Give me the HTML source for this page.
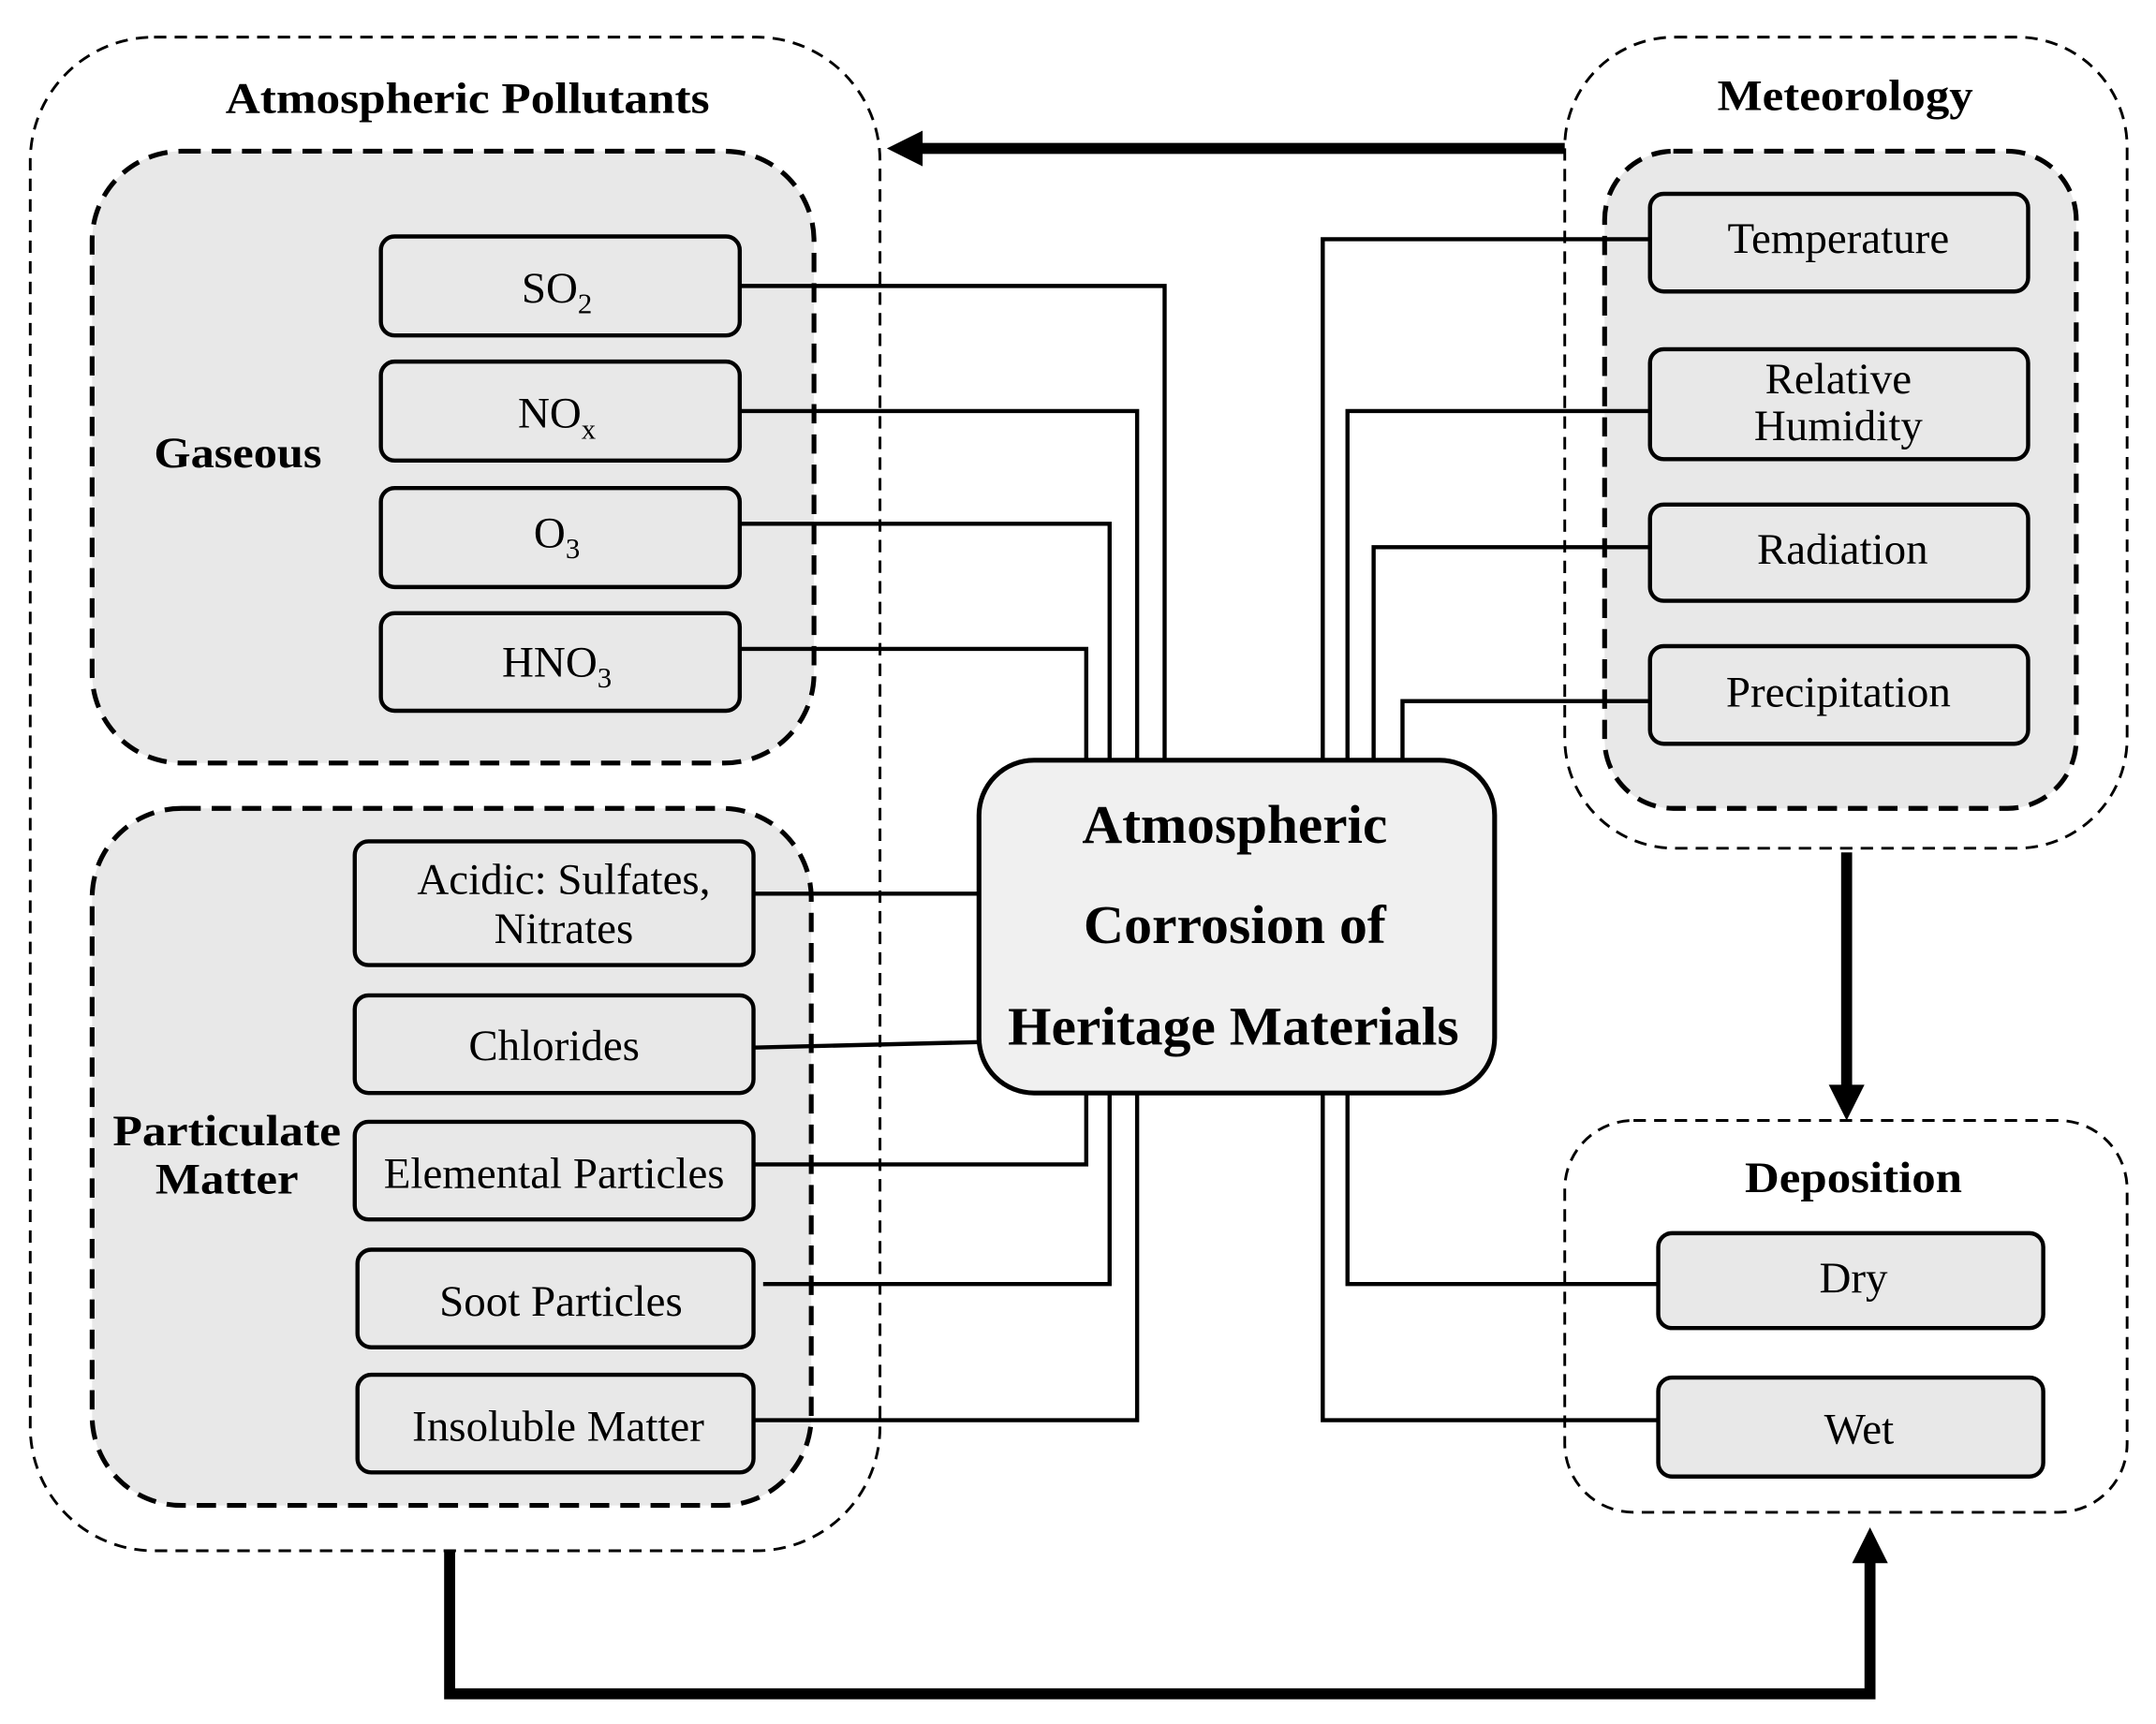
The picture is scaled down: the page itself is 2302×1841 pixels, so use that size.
<!DOCTYPE html>
<html><head><meta charset="utf-8"><style>html,body{margin:0;padding:0;background:#fff}svg{display:block}text{font-family:"Liberation Serif","Times New Roman",serif}</style></head>
<body>
<svg width="2302" height="1841" viewBox="0 0 1568 1254" preserveAspectRatio="none" xmlns="http://www.w3.org/2000/svg">
<rect x="22" y="27" width="618" height="1101" rx="90" fill="none" stroke="#000" stroke-width="2" stroke-dasharray="9,6"/>
<rect x="1138" y="27" width="409" height="590" rx="80" fill="none" stroke="#000" stroke-width="2" stroke-dasharray="9,6"/>
<rect x="1138" y="815" width="409" height="285" rx="50" fill="none" stroke="#000" stroke-width="2" stroke-dasharray="9,6"/>
<rect x="67" y="110" width="525" height="445" rx="65" fill="#e8e8e8" stroke="#000" stroke-width="3.5" stroke-dasharray="14,8"/>
<rect x="67" y="588" width="523" height="507" rx="65" fill="#e8e8e8" stroke="#000" stroke-width="3.5" stroke-dasharray="14,8"/>
<rect x="1167" y="110" width="343" height="478" rx="50" fill="#e8e8e8" stroke="#000" stroke-width="3.5" stroke-dasharray="14,8"/>
<g fill="none" stroke="#000" stroke-width="3">
<polyline points="538,208 847,208 847,553"/>
<polyline points="538,299 827,299 827,553"/>
<polyline points="538,381 807,381 807,553"/>
<polyline points="538,472 790,472 790,553"/>
<polyline points="548,650 712,650"/>
<polyline points="548,762 712,758"/>
<polyline points="548,847 790,847 790,795"/>
<polyline points="555,934 807,934 807,795"/>
<polyline points="548,1033 827,1033 827,795"/>
<polyline points="1200,174 962,174 962,553"/>
<polyline points="1200,299 980,299 980,553"/>
<polyline points="1200,398 999,398 999,553"/>
<polyline points="1200,510 1020,510 1020,553"/>
<polyline points="980,795 980,934 1206,934"/>
<polyline points="962,795 962,1033 1206,1033"/>
</g>
<g stroke="#000" stroke-width="8" fill="none">
<line x1="1138" y1="108" x2="668" y2="108"/>
<line x1="1343" y1="620" x2="1343" y2="790"/>
<polyline points="327,1128 327,1232 1360,1232 1360,1135"/>
</g>
<polygon points="645,108 671,95 671,121" fill="#000"/>
<polygon points="1343,815 1330,789 1356,789" fill="#000"/>
<polygon points="1360,1111 1347,1137 1373,1137" fill="#000"/>
<g fill="#e8e8e8" stroke="#000" stroke-width="3">
<rect x="277" y="172" width="261" height="72" rx="10"/>
<rect x="277" y="263" width="261" height="72" rx="10"/>
<rect x="277" y="355" width="261" height="72" rx="10"/>
<rect x="277" y="446" width="261" height="71" rx="10"/>
<rect x="258" y="612" width="290" height="90" rx="10"/>
<rect x="258" y="724" width="290" height="71" rx="10"/>
<rect x="258" y="816" width="290" height="71" rx="10"/>
<rect x="260" y="909" width="288" height="71" rx="10"/>
<rect x="260" y="1000" width="288" height="71" rx="10"/>
<rect x="1200" y="141" width="275" height="71" rx="10"/>
<rect x="1200" y="254" width="275" height="80" rx="10"/>
<rect x="1200" y="367" width="275" height="70" rx="10"/>
<rect x="1200" y="470" width="275" height="71" rx="10"/>
<rect x="1206" y="897" width="280" height="69" rx="10"/>
<rect x="1206" y="1002" width="280" height="72" rx="10"/>
</g>
<rect x="712" y="553" width="375" height="242" rx="40" fill="#f0f0f0" stroke="#000" stroke-width="3.5"/>
<g font-weight="bold" font-size="32" text-anchor="middle">
<text x="340" y="82" textLength="352" lengthAdjust="spacingAndGlyphs">Atmospheric Pollutants</text>
<text x="1342" y="80" textLength="186" lengthAdjust="spacingAndGlyphs">Meteorology</text>
<text x="1348" y="867" textLength="158" lengthAdjust="spacingAndGlyphs">Deposition</text>
<text x="173" y="340" textLength="122" lengthAdjust="spacingAndGlyphs">Gaseous</text>
<text x="165" y="833" textLength="166" lengthAdjust="spacingAndGlyphs">Particulate</text>
<text x="165" y="868" textLength="104" lengthAdjust="spacingAndGlyphs">Matter</text>
</g>
<g font-weight="bold" font-size="40" text-anchor="middle">
<text x="898" y="613" textLength="222" lengthAdjust="spacingAndGlyphs">Atmospheric</text>
<text x="898" y="686" textLength="220" lengthAdjust="spacingAndGlyphs">Corrosion of</text>
<text x="897" y="760" textLength="328" lengthAdjust="spacingAndGlyphs">Heritage Materials</text>
</g>
<g font-size="32" text-anchor="middle">
<text x="405" y="220">SO<tspan font-size="21" dy="8">2</tspan></text>
<text x="405" y="311">NO<tspan font-size="21" dy="8">x</tspan></text>
<text x="405" y="398">O<tspan font-size="21" dy="8">3</tspan></text>
<text x="405" y="492">HNO<tspan font-size="21" dy="8">3</tspan></text>
<text x="410" y="650">Acidic: Sulfates,</text>
<text x="410" y="686">Nitrates</text>
<text x="403" y="771">Chlorides</text>
<text x="403" y="864">Elemental Particles</text>
<text x="408" y="957">Soot Particles</text>
<text x="406" y="1048">Insoluble Matter</text>
<text x="1337" y="184">Temperature</text>
<text x="1337" y="286">Relative</text>
<text x="1337" y="320">Humidity</text>
<text x="1340" y="410">Radiation</text>
<text x="1337" y="514">Precipitation</text>
<text x="1348" y="940">Dry</text>
<text x="1352" y="1050">Wet</text>
</g>
</svg>
</body></html>
